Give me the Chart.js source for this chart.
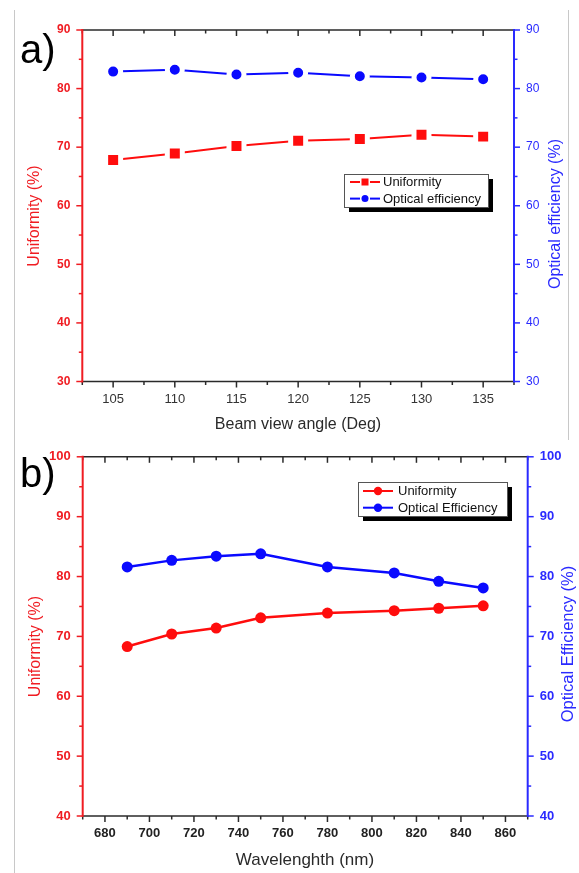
<!DOCTYPE html>
<html><head><meta charset="utf-8">
<script src="https://cdn.jsdelivr.net/npm/chart.js@4.4.0/dist/chart.umd.min.js"></script>
<style>
html,body{margin:0;padding:0;background:#fff;}
#wrap{position:relative;width:579px;height:873px;overflow:hidden;background:#fff;}
canvas{position:absolute;left:0;}
#ca{top:0;} #cb{top:437px;}
.tag{position:absolute;font-family:"Liberation Sans",Arial,sans-serif;font-size:40px;line-height:40px;color:#000;}
.edge{position:absolute;width:1px;background:#c8c8c8;}
</style></head><body>
<div id="wrap">
<div class="edge" style="left:14px;top:10px;height:863px"></div>
<div class="edge" style="left:568px;top:10px;height:430px"></div>
<canvas id="ca" width="579" height="437"></canvas>
<canvas id="cb" width="579" height="436"></canvas>
<div class="tag" style="left:20px;top:29px">a)</div>
<div class="tag" style="left:20px;top:453px">b)</div>
</div>
<script>
// ---------- data ----------
const anglesA = [105, 110, 115, 120, 125, 130, 135];
const uniformityA = [67.8, 68.9, 70.2, 71.1, 71.4, 72.1, 71.8];
const opticalA = [82.9, 83.2, 82.4, 82.7, 82.1, 81.9, 81.6];

const wavelengthsB = [690, 710, 730, 750, 780, 810, 830, 850];
const uniformityB = [68.3, 70.4, 71.4, 73.1, 73.9, 74.3, 74.7, 75.1];
const opticalB = [81.6, 82.7, 83.4, 83.8, 81.6, 80.6, 79.2, 78.1];

const seriesNamesA = ['Uniformity', 'Optical efficiency'];
const seriesNamesB = ['Uniformity', 'Optical Efficiency'];
const axisTitlesA = ['Beam view angle (Deg)', 'Uniformity (%)', 'Optical efficiency (%)'];
const axisTitlesB = ['Wavelenghth (nm)', 'Uniformity (%)', 'Optical Efficiency (%)'];

// ---------- styles ----------
const FONT = '"Liberation Sans", Arial, sans-serif';
const RED = '#f01c22', BLUE = '#2a2aff', LRED = '#ff0d0d', LBLUE = '#0a0aff', DARK = '#2a2a2a';

function pts(xs, ys) { return xs.map((x, i) => ({ x: x, y: ys[i] })); }

const decor = {
  id: 'decor',
  afterDraw(chart, args, o) {
    const ctx = chart.ctx, a = chart.chartArea;
    const sx = chart.scales.x, sy = chart.scales.y, sy1 = chart.scales.y1;
    ctx.save();
    const seg = (x1, y1, x2, y2, c, w) => {
      ctx.strokeStyle = c; ctx.lineWidth = w; ctx.beginPath();
      ctx.moveTo(x1, y1); ctx.lineTo(x2, y2); ctx.stroke();
    };
    const isMajor = (v, m) => Math.abs(v / m - Math.round(v / m)) < 1e-6;
    // x ticks
    for (let v = o.x.min; v <= o.x.max + 1e-9; v += o.x.minor) {
      const L = isMajor(v, o.x.major) ? 6 : 3.5;
      const px = sx.getPixelForValue(v);
      seg(px, a.bottom, px, a.bottom + L, DARK, 1.5);
      seg(px, a.top, px, a.top + L, DARK, 1.5);
    }
    // y ticks
    for (let v = o.y.min; v <= o.y.max + 1e-9; v += o.y.minor) {
      const L = isMajor(v, o.y.major) ? 6 : 3.5;
      const p1 = sy.getPixelForValue(v), p2 = sy1.getPixelForValue(v);
      seg(a.left - L, p1, a.left, p1, RED, 1.5);
      seg(a.right, p2, a.right + L, p2, BLUE, 1.5);
    }
    // frame
    seg(a.left, a.top, a.right, a.top, DARK, 1.5);
    seg(a.left, a.bottom, a.right, a.bottom, DARK, 1.5);
    seg(a.left, a.top - 1, a.left, a.bottom + 1, RED, 2);
    seg(a.right, a.top - 1, a.right, a.bottom + 1, BLUE, 2);
    // titles
    o.titles.forEach(t => {
      ctx.save(); ctx.translate(t.x, t.y); ctx.rotate(t.rot || 0);
      ctx.font = t.font; ctx.fillStyle = t.color; ctx.textAlign = 'center'; ctx.textBaseline = 'middle';
      ctx.fillText(t.text, 0, 0); ctx.restore();
    });
    // legend
    const L = o.legend;
    ctx.fillStyle = '#000'; ctx.fillRect(L.x + L.sh, L.y + L.sh, L.w, L.h);
    ctx.fillStyle = '#fff'; ctx.fillRect(L.x, L.y, L.w, L.h);
    ctx.strokeStyle = '#555'; ctx.lineWidth = 1; ctx.strokeRect(L.x + 0.5, L.y + 0.5, L.w, L.h);
    chart.data.datasets.forEach((ds, i) => {
      const cy = L.y + L.row0 + i * L.rowH;
      const c = ds.backgroundColor;
      if (L.gap) {
        seg(L.lx1, cy, L.mx - L.gap, cy, c, 2);
        seg(L.mx + L.gap, cy, L.lx2, cy, c, 2);
      } else {
        seg(L.lx1, cy, L.lx2, cy, c, 2);
      }
      ctx.fillStyle = c;
      if (ds.pointStyle === 'rect') {
        ctx.fillRect(L.mx - L.ms, cy - L.ms, 2 * L.ms, 2 * L.ms);
      } else {
        ctx.beginPath(); ctx.arc(L.mx, cy, L.ms, 0, Math.PI * 2); ctx.fill();
      }
      ctx.fillStyle = '#111'; ctx.font = '13px ' + FONT;
      ctx.textAlign = 'left'; ctx.textBaseline = 'middle';
      ctx.fillText(ds.label, L.tx, cy + 0.5);
    });
    ctx.restore();
  }
};

function scalesFor(xmin, xmax, xstep, xlab, ymin, ymax, dims, fonts) {
  return {
    x: {
      type: 'linear', position: 'bottom', min: xmin, max: xmax,
      grid: { display: false, drawTicks: false }, border: { display: false },
      ticks: { stepSize: xstep, autoSkip: false, maxRotation: 0, padding: 10, color: fonts.xc, font: fonts.x,
        callback: v => (Math.abs(v / xlab - Math.round(v / xlab)) < 1e-6 ? String(v) : '') },
      afterFit: s => { s.height = dims.bottom; }
    },
    y: {
      type: 'linear', position: 'left', min: ymin, max: ymax,
      grid: { display: false, drawTicks: false }, border: { display: false },
      ticks: { stepSize: 10, padding: 12, color: RED, font: fonts.yl },
      afterFit: s => { s.width = dims.left; }
    },
    y1: {
      type: 'linear', position: 'right', min: ymin, max: ymax,
      grid: { display: false, drawTicks: false }, border: { display: false },
      ticks: { stepSize: 10, padding: 12, color: BLUE, font: fonts.yr },
      afterFit: s => { s.width = dims.right; }
    }
  };
}

// ---------- chart a ----------
new Chart(document.getElementById('ca'), {
  type: 'scatter',
  data: {
    datasets: [
      { label: seriesNamesA[0], data: pts(anglesA, uniformityA), yAxisID: 'y', showLine: true,
        borderColor: LRED, backgroundColor: LRED, borderWidth: 2, pointStyle: 'rect',
        pointRadius: 10.6, pointBorderWidth: 5, pointBorderColor: '#fff', pointBackgroundColor: LRED },
      { label: seriesNamesA[1], data: pts(anglesA, opticalA), yAxisID: 'y1', showLine: true,
        borderColor: LBLUE, backgroundColor: LBLUE, borderWidth: 2, pointStyle: 'circle',
        pointRadius: 7.5, pointBorderWidth: 5, pointBorderColor: '#fff', pointBackgroundColor: LBLUE }
    ]
  },
  options: {
    responsive: false, animation: false, devicePixelRatio: 1,
    layout: { padding: { top: 30, left: 0, right: 0, bottom: 0 } },
    scales: scalesFor(102.5, 137.5, 2.5, 5, 30, 90,
      { left: 82.3, right: 65, bottom: 55.5 },
      { x: { family: FONT, size: 13 }, xc: '#333', yl: { family: FONT, size: 12, weight: 'bold' }, yr: { family: FONT, size: 12 } }),
    plugins: {
      legend: { display: false }, tooltip: { enabled: false },
      decor: {
        x: { min: 102.5, max: 137.5, minor: 2.5, major: 5 },
        y: { min: 30, max: 90, minor: 5, major: 10 },
        titles: [
          { text: axisTitlesA[0], x: 298, y: 425, rot: 0, font: '16px ' + FONT, color: DARK },
          { text: axisTitlesA[1], x: 35, y: 216, rot: -Math.PI / 2, font: '16px ' + FONT, color: RED },
          { text: axisTitlesA[2], x: 556, y: 214, rot: -Math.PI / 2, font: '16px ' + FONT, color: BLUE }
        ],
        legend: { x: 344, y: 174, w: 144, h: 33, sh: 5, row0: 8, rowH: 16.6,
          lx1: 350, lx2: 380, mx: 365, gap: 5, ms: 3.5, tx: 383 }
      }
    }
  },
  plugins: [decor]
});

// ---------- chart b ----------
new Chart(document.getElementById('cb'), {
  type: 'scatter',
  data: {
    datasets: [
      { label: seriesNamesB[0], data: pts(wavelengthsB, uniformityB), yAxisID: 'y', showLine: true,
        borderColor: LRED, backgroundColor: LRED, borderWidth: 2.5, pointStyle: 'circle',
        pointRadius: 5.5, pointBorderWidth: 0, pointBackgroundColor: LRED },
      { label: seriesNamesB[1], data: pts(wavelengthsB, opticalB), yAxisID: 'y1', showLine: true,
        borderColor: LBLUE, backgroundColor: LBLUE, borderWidth: 2.5, pointStyle: 'circle',
        pointRadius: 5.5, pointBorderWidth: 0, pointBackgroundColor: LBLUE }
    ]
  },
  options: {
    responsive: false, animation: false, devicePixelRatio: 1,
    layout: { padding: { top: 17.3, left: 0, right: 0, bottom: 0 } },
    scales: scalesFor(670, 870, 10, 20, 40, 100,
      { left: 82.7, right: 51.3, bottom: 57 },
      { x: { family: FONT, size: 13, weight: 'bold' }, xc: '#222', yl: { family: FONT, size: 13, weight: 'bold' }, yr: { family: FONT, size: 13, weight: 'bold' } }),
    plugins: {
      legend: { display: false }, tooltip: { enabled: false },
      decor: {
        x: { min: 670, max: 870, minor: 10, major: 20 },
        y: { min: 40, max: 100, minor: 5, major: 10 },
        titles: [
          { text: axisTitlesB[0], x: 305, y: 423, rot: 0, font: '17px ' + FONT, color: DARK },
          { text: axisTitlesB[1], x: 36, y: 209.5, rot: -Math.PI / 2, font: '16px ' + FONT, color: RED },
          { text: axisTitlesB[2], x: 568, y: 207, rot: -Math.PI / 2, font: '16.5px ' + FONT, color: BLUE }
        ],
        legend: { x: 358, y: 45, w: 149, h: 34, sh: 5, row0: 9, rowH: 16.7,
          lx1: 363, lx2: 393, mx: 378, gap: 0, ms: 4.2, tx: 398 }
      }
    }
  },
  plugins: [decor]
});
</script>
</body></html>
